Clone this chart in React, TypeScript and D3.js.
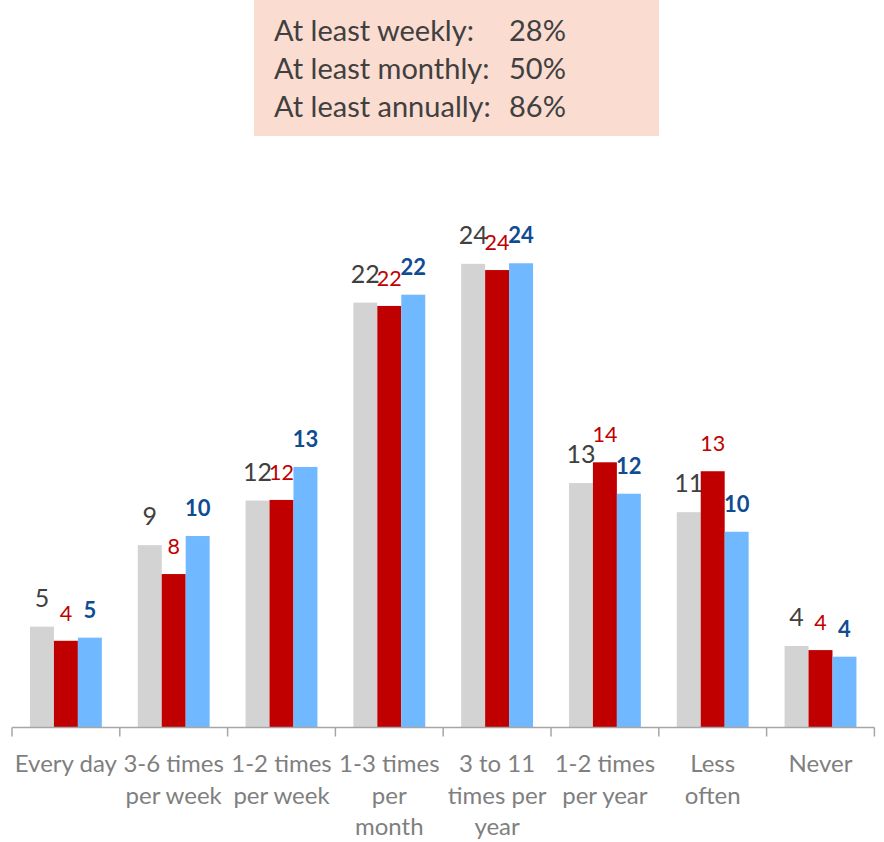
import React from "react";
import * as d3 from "d3";

const categories: string[][] = [
  ["Every day"],
  ["3-6 times", "per week"],
  ["1-2 times", "per week"],
  ["1-3 times", "per", "month"],
  ["3 to 11", "times per", "year"],
  ["1-2 times", "per year"],
  ["Less", "often"],
  ["Never"],
];
const seriesNames = ["s1", "s2", "s3"];
const grayValues = [5.2, 9.4, 11.7, 21.9, 23.9, 12.6, 11.1, 4.2];
const redValues = [4.47, 7.91, 11.73, 21.73, 23.58, 13.67, 13.21, 3.99];
const blueValues = [4.63, 9.87, 13.43, 22.31, 23.93, 12.05, 10.09, 3.65];
const summaryLabels = ["At least weekly:", "At least monthly:", "At least annually:"];
const summaryValues = ["28%", "50%", "86%"];

const W = 884;
const H = 842;
const FONT = "Lato, 'Open Sans', sans-serif";

const seriesStyle = [
  { fill: "#D3D3D3", label: "#404040", size: 25, weight: 400 },
  { fill: "#C00000", label: "#C00000", size: 21.5, weight: 400 },
  { fill: "#70B8FF", label: "#0F4C92", size: 22, weight: 700 },
];

export default function App() {
  const baseline = 727.5;
  const x = d3
    .scaleBand<number>()
    .domain(categories.map((_, i) => i))
    .range([12, 874.4])
    .padding(0);
  const xs = d3
    .scaleBand<string>()
    .domain(seriesNames)
    .range([0, x.bandwidth()])
    .paddingInner(0)
    .paddingOuter(0.75);
  const y = d3.scaleLinear().domain([0, 30]).range([baseline, baseline - 30 * 19.4]);
  const allSeries = [grayValues, redValues, blueValues];

  const tickXs = [...categories.map((_, i) => x(i)!), x(categories.length - 1)! + x.bandwidth()];

  return (
    <svg
      width={W}
      height={H}
      style={{ position: "absolute", left: 0, top: 0, background: "#fff" }}
      fontFamily={FONT}
    >
      {/* summary box */}
      <rect x={254} y={0} width={405} height={136} fill="#FBDCD1" />
      {summaryLabels.map((t, i) => (
        <g key={t}>
          <text x={274} y={41 + i * 38} fontSize={29} fill="#404040">
            {t}
          </text>
          <text x={509} y={41 + i * 38} fontSize={29} fill="#404040">
            {summaryValues[i]}
          </text>
        </g>
      ))}

      {/* bars */}
      {allSeries.map((vals, s) =>
        vals.map((v, i) => (
          <rect
            key={`b${s}-${i}`}
            x={x(i)! + xs(seriesNames[s])!}
            y={y(v)}
            width={xs.bandwidth()}
            height={baseline - y(v)}
            fill={seriesStyle[s].fill}
          />
        ))
      )}

      {/* data labels */}
      {allSeries.map((vals, s) =>
        vals.map((v, i) => (
          <text
            key={`l${s}-${i}`}
            x={x(i)! + xs(seriesNames[s])! + xs.bandwidth() / 2}
            y={y(v) - 20}
            textAnchor="middle"
            fontSize={seriesStyle[s].size}
            fontWeight={seriesStyle[s].weight}
            fill={seriesStyle[s].label}
          >
            {Math.round(v)}
          </text>
        ))
      )}

      {/* axis */}
      <line x1={tickXs[0]} x2={tickXs[tickXs.length - 1]} y1={baseline} y2={baseline} stroke="#A6A6A6" strokeWidth={1.5} />
      {tickXs.map((tx, i) => (
        <line key={`t${i}`} x1={tx} x2={tx} y1={baseline} y2={baseline + 9} stroke="#A6A6A6" strokeWidth={1.5} />
      ))}
      {categories.map((lines, i) => (
        <text
          key={`c${i}`}
          textAnchor="middle"
          fontSize={24}
          fill="#7F7F7F"
        >
          {lines.map((ln, j) => (
            <tspan key={j} x={x(i)! + x.bandwidth() / 2} y={772 + j * 31.7}>
              {ln}
            </tspan>
          ))}
        </text>
      ))}
    </svg>
  );
}
